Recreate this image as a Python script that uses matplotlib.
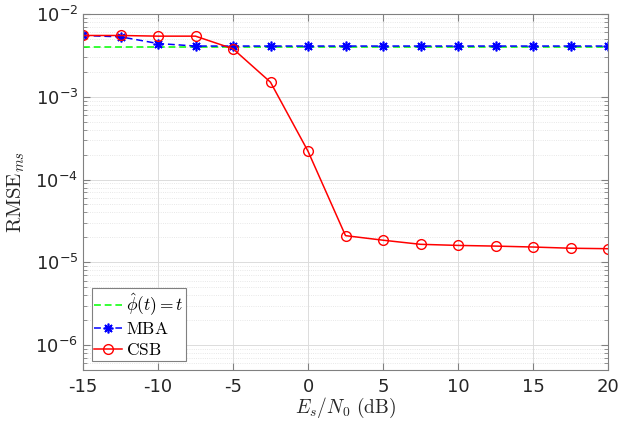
import numpy as np
import matplotlib
matplotlib.use('Agg')
import matplotlib.pyplot as plt

# -------------------- Data --------------------

snr_db = [-15, -12.5, -10, -7.5, -5, -2.5, 0, 2.5, 5, 7.5, 10, 12.5, 15, 17.5, 20]

rmse_ref = [4.0e-3] * 15  # phi_hat(t) = t

rmse_mba = [5.5e-3, 5.3e-3, 4.4e-3, 4.1e-3, 4.1e-3, 4.1e-3, 4.1e-3, 4.1e-3,
            4.1e-3, 4.1e-3, 4.1e-3, 4.1e-3, 4.1e-3, 4.1e-3, 4.1e-3]

rmse_csb = [5.5e-3, 5.5e-3, 5.4e-3, 5.4e-3, 3.8e-3, 1.5e-3, 2.2e-4, 2.1e-5,
            1.85e-5, 1.65e-5, 1.6e-5, 1.57e-5, 1.53e-5, 1.48e-5, 1.46e-5]

# -------------------- Plot --------------------

plt.rcParams['mathtext.fontset'] = 'cm'
plt.rcParams['axes.unicode_minus'] = False

fig = plt.figure(figsize=(6.31, 4.22), dpi=100)
ax = fig.add_axes([83 / 631, 52 / 422, 525 / 631, 356 / 422])

ax.semilogy(snr_db, rmse_ref, '--', color='#00ff00', lw=1.1, dashes=(4.5, 2.5),
            label=r'$\hat{\phi}(t)=t$')
ax.semilogy(snr_db, rmse_mba, '--', color='#0000ff', lw=1.1, dashes=(4.5, 2.5),
            marker=(8, 2, 0), ms=7, mew=1.2, label=r'$\mathrm{MBA}$')
ax.semilogy(snr_db, rmse_csb, '-', color='#ff0000', lw=1.1, marker='o',
            ms=7, mfc='none', mew=1.0, label=r'$\mathrm{CSB}$')

ax.set_xlim(-15, 20)
ax.set_ylim(5e-7, 1e-2)
ax.set_xticks(np.arange(-15, 21, 5))

ax.grid(True, which='major', color='#dcdcdc', lw=0.7)
ax.grid(True, which='minor', axis='y', color='#e0e0e0', lw=0.6, ls=':')
ax.set_axisbelow(True)

for s in ax.spines.values():
    s.set_color('#808080')
    s.set_linewidth(0.8)
ax.tick_params(which='both', direction='in', top=True, right=True,
               colors='#808080', labelcolor='#262626', labelsize=13)
ax.tick_params(which='major', length=5)
ax.tick_params(which='minor', length=3)
ax.tick_params(axis='x', pad=6)

ax.set_xlabel(r'$E_s/N_0\ \mathrm{(dB)}$', fontsize=14, color='#262626', labelpad=0)
ax.set_ylabel(r'$\mathrm{RMSE}_{ms}$', fontsize=15, color='#262626', labelpad=6)

leg = ax.legend(loc='lower left', fontsize=12.5,
                fancybox=False, framealpha=1, edgecolor='#808080',
                borderpad=0.15, labelspacing=0.15, handlelength=1.6,
                handletextpad=0.2, borderaxespad=0.5)
leg.get_frame().set_linewidth(0.8)

fig.savefig('out.png', dpi=100)
